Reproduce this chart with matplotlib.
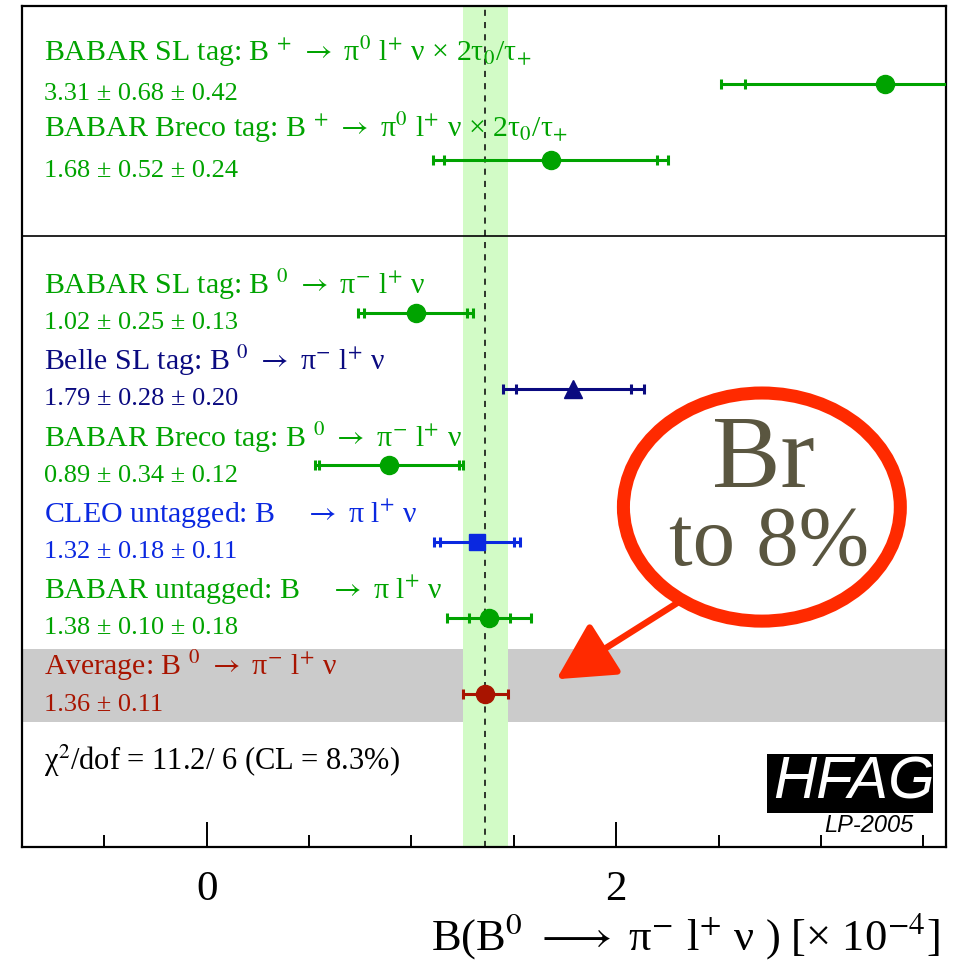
import matplotlib
matplotlib.use("Agg")
import matplotlib.pyplot as plt
from matplotlib.patches import Ellipse, Rectangle
from matplotlib.ticker import MultipleLocator, FixedLocator

plt.rcParams['font.family'] = ['Liberation Serif', 'DejaVu Serif']
plt.rcParams['mathtext.fontset'] = 'stix'
plt.rcParams['mathtext.default'] = 'rm'

# ---------------- data ----------------
labels = [
    r"BABAR SL tag: B $^{+}$ $\rightarrow$ π$^{0}$ l$^{+}$ ν × 2τ$_{0}$/τ$_{+}$",
    r"BABAR Breco tag: B $^{+}$ $\rightarrow$ π$^{0}$ l$^{+}$ ν × 2τ$_{0}$/τ$_{+}$",
    r"BABAR SL tag: B $^{0}$ $\rightarrow$ π$^{-}$ l$^{+}$ ν",
    r"Belle SL tag: B $^{0}$ $\rightarrow$ π$^{-}$ l$^{+}$ ν",
    r"BABAR Breco tag: B $^{0}$ $\rightarrow$ π$^{-}$ l$^{+}$ ν",
    r"CLEO untagged: B    $\rightarrow$ π l$^{+}$ ν",
    r"BABAR untagged: B    $\rightarrow$ π l$^{+}$ ν",
]
values = [3.31, 1.68, 1.02, 1.79, 0.89, 1.32, 1.38]
stat_err = [0.68, 0.52, 0.25, 0.28, 0.34, 0.18, 0.10]
syst_err = [0.42, 0.24, 0.13, 0.20, 0.12, 0.11, 0.18]
rows = [10, 9, 7, 6, 5, 4, 3]
colors = ['#00a300', '#00a300', '#00a300', '#0a0a80', '#00a300', '#0a28e0', '#00a300']
markers = ['o', 'o', 'o', '^', 'o', 's', 'o']

avg_label = r"Average: B $^{0}$ $\rightarrow$ π$^{-}$ l$^{+}$ ν"
avg_value = 1.36
avg_err = 0.11
avg_row = 2
avg_color = '#a81400'

chi2_text = "χ$^{2}$/dof = 11.2/ 6 (CL = 8.3%)"
xlabel = r"B(B$^{0}$ $\longrightarrow$ π$^{-}$ l$^{+}$ ν ) [× 10$^{-4}$]"
xticks_major = [0, 2]
xlim = (-0.903, 3.61)
ylim = (0, 11.02)

# ---------------- figure ----------------
W, H = 963, 964
fig = plt.figure(figsize=(W / 100, H / 100), dpi=100)
L, R, T, B = 21.7, 946.0, 6.0, 846.7
ax = fig.add_axes([L / W, 1 - B / H, (R - L) / W, (B - T) / H])
ax.set_xlim(*xlim)
ax.set_ylim(*ylim)

# background bands
ax.axhspan(1.635, 2.59, color='#cbcbcb', lw=0, zorder=0)
ax.axvspan(avg_value - avg_err, avg_value + avg_err, color='#d2fbc6', lw=0, zorder=1)
ax.axvline(avg_value, color='k', lw=1.1, dashes=(4, 4), zorder=2)
ax.axhline(8, color='k', lw=1.2, zorder=2)

text_x = -0.794
lw_err = 2.2
for lab, v, s, sy, y, c, m in zip(labels, values, stat_err, syst_err, rows, colors, markers):
    tot = (s ** 2 + sy ** 2) ** 0.5
    ax.errorbar(v, y, xerr=tot, fmt='none', ecolor=c, elinewidth=lw_err,
                capsize=3.6, capthick=lw_err, zorder=4)
    ax.plot([v - s, v + s], [y, y], ls='none', marker='|', ms=7.2, mew=lw_err,
            color=c, zorder=4)
    ax.plot(v, y, marker=m, ms=13 if m != 's' else 12, color=c, ls='none', zorder=5)
    off = 0.30 if y > 8 else 0.245
    ax.text(text_x, y + off, lab, color=c, fontsize=21.5, va='baseline', ha='left')
    ax.text(text_x, y - 0.215, f"{v:.2f} ± {s:.2f} ± {sy:.2f}", color=c,
            fontsize=19, va='baseline', ha='left')

# average
ax.errorbar(avg_value, avg_row, xerr=avg_err, fmt='o', color=avg_color, ms=13,
            elinewidth=lw_err, capsize=3.6, capthick=lw_err, zorder=5)
ax.text(text_x, avg_row + 0.25, avg_label, color=avg_color, fontsize=21.5,
        va='baseline', ha='left')
ax.text(text_x, avg_row - 0.22, f"{avg_value:.2f} ± {avg_err:.2f}", color=avg_color,
        fontsize=19, va='baseline', ha='left')

ax.text(text_x, 1.005, chi2_text, color='k', fontsize=22, va='baseline', ha='left')

# HFAG logo
ax.add_patch(Rectangle((2.736, 0.442), 3.546 - 2.736, 1.215 - 0.442,
                       facecolor='k', edgecolor='none', zorder=6))
ax.text((2.736 + 3.546) / 2 + 0.02, 0.83, "HFAG", color='white', fontsize=43,
        family='Liberation Sans', style='italic', ha='center', va='center', zorder=7)
ax.text(3.234, 0.197, "LP-2005", color='k', fontsize=17, family='Liberation Sans',
        style='italic', ha='center', va='baseline', zorder=7)

# annotation ellipse + arrow
red = '#ff2a00'
ax.add_patch(Ellipse((2.711, 4.452), 1.352, 2.99, facecolor='none', edgecolor=red,
                     lw=9.4, zorder=8))
ax.text(2.716, 4.715, "Br", color='#5a5640', fontsize=74, ha='center',
        va='baseline', zorder=9)
ax.text(2.745, 3.70, "to 8%", color='#5a5640', fontsize=61, ha='center',
        va='baseline', zorder=9)
ax.annotate('', xy=(1.708, 2.195), xytext=(2.296, 3.192),
            arrowprops=dict(arrowstyle='-|>,head_length=1.6,head_width=0.85',
                            mutation_scale=22, lw=4.6, color=red,
                            shrinkA=0, shrinkB=0), zorder=8)

# axes styling
for side in ['left', 'right', 'top', 'bottom']:
    ax.spines[side].set_linewidth(1.6)
ax.yaxis.set_visible(False)
ax.xaxis.set_major_locator(FixedLocator(xticks_major))
ax.xaxis.set_minor_locator(MultipleLocator(0.5))
ax.tick_params(axis='x', which='major', direction='in', length=18, width=1.4,
               labelsize=31, pad=17, top=False)
ax.tick_params(axis='x', which='minor', direction='in', length=8.6, width=1.4, top=False)
ax.set_xlabel(xlabel, fontsize=32, loc='right')
ax.xaxis.label.set_va('baseline')
ax.xaxis.set_label_coords((940 - L) / (R - L), (B - 950) / (B - T))

fig.savefig('out.png', dpi=100)
